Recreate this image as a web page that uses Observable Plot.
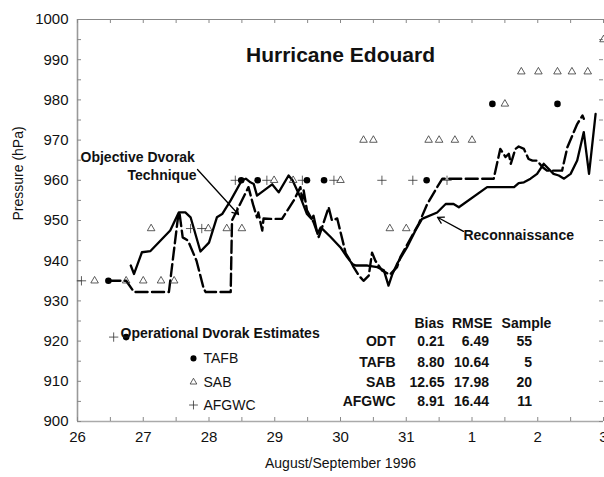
<!DOCTYPE html>
<html><head><meta charset="utf-8">
<script src="https://cdn.jsdelivr.net/npm/d3@7"></script>
<script src="https://cdn.jsdelivr.net/npm/@observablehq/plot@0.6"></script>
<style>body{margin:0;background:#fff} #chart svg{display:block}</style>
</head><body><div id="chart"></div>
<script>
// Day numbers: Aug 26 = 26 ... Aug 31 = 31, Sep 1 = 32, Sep 2 = 33, Sep 3 = 34
const odtDays = [26.47,26.74,26.86,27.39,27.53,27.55,27.6,27.68,27.81,27.92,27.95,28.33,28.35,28.6,28.67,28.73,28.75,28.81,28.83,28.94,29.11,29.29,29.39,29.42,29.44,29.49,29.59,29.67,29.72,29.82,29.87,29.95,30.08,30.15,30.2,30.28,30.35,30.43,30.48,30.53,30.63,30.75,30.86,30.91,31.19,31.32,31.47,31.55,32.33,32.43,32.51,32.56,32.59,32.66,32.71,32.79,32.86,32.92,32.99,33.07,33.14,33.37,33.45,33.6,33.68,33.7];
const odtPressure = [935,935,932.2,932.2,951,952,945.8,945,940,933,932.2,932.2,950,958.3,954,950.8,952,947.5,950.5,950.4,950.4,955,958.3,955,957.5,952.5,949.6,945.9,948.3,953.3,950,950.5,941.8,940,938.4,936.3,935,936.3,942,940,937.6,936.5,938.4,940.9,949.2,954.1,958.3,960.4,960.4,967.8,965.8,966.6,964.1,967.8,968.4,967.8,965.3,964.9,964.9,963.3,962.4,962.4,968.2,974,976.1,975.3];

const reconDays = [26.81,26.86,26.98,27.11,27.41,27.54,27.64,27.72,27.87,28.0,28.12,28.2,28.33,28.5,28.56,28.63,28.68,28.73,28.96,29.06,29.21,29.27,29.34,29.39,29.49,29.56,29.59,29.65,29.7,29.85,30.0,30.1,30.18,30.23,30.41,30.56,30.66,30.73,30.79,30.86,31.01,31.14,31.24,31.47,31.6,31.72,31.8,32.23,32.64,32.71,32.79,32.89,32.99,33.09,33.24,33.32,33.4,33.5,33.6,33.7,33.78,33.88];
const reconPressure = [938.8,936.7,942.1,942.4,947.5,952,952,950.8,942.3,944.5,950.8,951.6,955,960,960.4,959.5,959.1,956.2,959,957,961.2,960,957.5,955.8,951.6,950.4,951.2,946.7,948.3,945.9,943.3,940.9,939.2,938.8,938.8,938.4,937.6,933.8,936.7,939.2,943.3,947.5,950.4,952,954.1,954.1,953.3,958.3,958.3,959.3,959.5,960.4,961.6,964.1,961.6,961.2,960.4,961.6,964.9,972,961.6,976.5];

const tafbDays = [26.47,26.74,28.49,28.74,29.49,29.75,31.31,32.31,33.3];
const tafbPressure = [935,921,960,960,960,960,960,979,979];

const sabDays = [26.26,26.74,27.0,27.27,27.47,27.12,27.99,28.27,28.5,28.99,29.28,30.0,30.35,30.5,31.34,31.5,31.74,32.0,30.75,31.0,32.5,32.75,33.01,33.3,33.52,33.76,34.0];
const sabPressure = [935,935,935,935,935,948,948,948,948,960,960,960,970,970,970,970,970,970,948,948,979,987,987,987,987,987,995];

const afgwcDays = [26.06,26.55,27.72,27.89,28.4,28.88,29.42,29.9,30.63,31.1,31.62];
const afgwcPressure = [935,921,948,948,960,960,960,960,960,960,960];

const xTickValues = [26,27,28,29,30,31,32,33,34];
const xTickLabels = ["26","27","28","29","30","31","1","2","3"];
const yTickValues = [900,910,920,930,940,950,960,970,980,990,1000];
const yMinorTicks = d3.range(900, 1001, 5);
const xHalfTicks = d3.range(26, 34.01, 0.5);

const legendLabels = ["TAFB","SAB","AFGWC"];
const legendSymbols = ["circle","triangle2","plus"];
const tableNames = ["ODT","TAFB","SAB","AFGWC"];
const tableBias = ["0.21","8.80","12.65","8.91"];
const tableRmse = ["6.49","10.64","17.98","16.44"];
const tableSample = ["55","5","20","11"];

const zip = (xs, ys) => xs.map((d, i) => ({day: d, p: ys[i]}));
const odt = zip(odtDays, odtPressure);
const recon = zip(reconDays, reconPressure);
const tafb = zip(tafbDays, tafbPressure);
const sab = zip(sabDays, sabPressure);
const afgwc = zip(afgwcDays, afgwcPressure);

const legendY = [915.7, 909.8, 904.1];
const legend = legendLabels.map((l, i) => ({label: l, symbol: legendSymbols[i], y: legendY[i]}));
const rowY = [919.9, 914.7, 909.7, 905.0];
const table = tableNames.map((n, i) => ({name: n, bias: tableBias[i], rmse: tableRmse[i], sample: tableSample[i], y: rowY[i]}));

const FONT = "Liberation Sans, Arial, Helvetica, sans-serif";
const plotW = 604 - 77 - 1, plotH = 477 - 19 - 56;
const symR = d => d.symbol === "circle" ? 3.3 : d.symbol === "plus" ? 3.1 : 3.6;

const chart = Plot.plot({
  width: 604, height: 477,
  marginLeft: 77, marginRight: 1, marginTop: 19, marginBottom: 56,
  x: {domain: [26, 34]},
  y: {domain: [900, 1000]},
  style: {fontFamily: FONT, fontSize: "14px", color: "#111", background: "#fff"},
  marks: [
    Plot.ruleX([26], {stroke: "#999", strokeWidth: 1.6}),
    Plot.ruleY([900], {stroke: "#aaa", strokeWidth: 1.3}),
    Plot.ruleY([1000], {stroke: "#888", strokeWidth: 1}),
    Plot.tickY(yMinorTicks, {y: d => d, insetRight: plotW - 4, stroke: "#888"}),
    Plot.tickY(yMinorTicks, {y: d => d, insetLeft: plotW - 4, stroke: "#888"}),
    Plot.tickX(xHalfTicks, {x: d => d, insetTop: plotH - 4, stroke: "#888"}),
    Plot.tickX(xHalfTicks, {x: d => d, insetBottom: plotH - 4, stroke: "#888"}),
    Plot.axisY(yTickValues, {tickSize: 0, tickPadding: 9, fontSize: 15, label: null, fill: "#111", tickFormat: d => String(d)}),
    Plot.axisX(xTickValues, {tickSize: 0, tickPadding: 10, fontSize: 15, label: null, fill: "#111",
      tickFormat: d => xTickLabels[xTickValues.indexOf(d)]}),
    Plot.text(["Pressure (hPa)"], {frameAnchor: "left", dx: -59, rotate: -90, fontSize: 14, fill: "#111"}),
    Plot.text(["August/September 1996"], {frameAnchor: "bottom", dy: 46, fontSize: 14, fill: "#111"}),
    Plot.text(["Hurricane Edouard"], {frameAnchor: "top", dy: 28, fontSize: 21, fontWeight: "bold", fill: "#111"}),

    Plot.line(odt, {x: "day", y: "p", stroke: "#000", strokeWidth: 2.4, strokeDasharray: "12,4.5"}),
    Plot.line(recon, {x: "day", y: "p", stroke: "#000", strokeWidth: 2.3}),

    Plot.dot(sab, {x: "day", y: "p", symbol: "triangle2", r: 3.6, stroke: "#333", strokeWidth: 0.8, fill: "none"}),
    Plot.dot(afgwc, {x: "day", y: "p", symbol: "plus", r: 3.1, stroke: "#333", strokeWidth: 0.8}),
    Plot.dot(tafb, {x: "day", y: "p", symbol: "circle", r: 3.3, fill: "#000", stroke: "none"}),

    Plot.text(["Objective Dvorak"], {x: 26.046, y: 965.7, textAnchor: "start", fontSize: 14, fontWeight: "bold", fill: "#111"}),
    Plot.text(["Technique"], {x: 27.81, y: 961.2, textAnchor: "end", fontSize: 14, fontWeight: "bold", fill: "#111"}),
    Plot.arrow([0], {x1: 27.825, y1: 962.7, x2: 28.449, y2: 951.5, stroke: "#000", strokeWidth: 1.3, headLength: 8, bend: 0}),
    Plot.text(["Reconnaissance"], {x: 31.87, y: 946.3, textAnchor: "start", fontSize: 14, fontWeight: "bold", fill: "#111"}),
    Plot.arrow([0], {x1: 31.87, y1: 947.3, x2: 31.475, y2: 950.8, stroke: "#000", strokeWidth: 1.3, headLength: 8, bend: 0}),

    Plot.text(["Operational Dvorak Estimates"], {x: 26.654, y: 921.9, textAnchor: "start", fontSize: 14, fontWeight: "bold", fill: "#111"}),
    Plot.dot(legend, {x: 27.764, y: "y", symbol: "symbol", r: symR,
      fill: d => d.symbol === "circle" ? "#000" : "none", stroke: d => d.symbol === "circle" ? "none" : "#333", strokeWidth: 0.8}),
    Plot.text(legend, {x: 27.916, y: "y", text: "label", textAnchor: "start", fontSize: 14, fill: "#111"}),

    Plot.text(["Bias"], {x: 31.574, y: 924.4, textAnchor: "end", fontSize: 14, fontWeight: "bold", fill: "#111"}),
    Plot.text(["RMSE"], {x: 32.003, y: 924.4, fontSize: 14, fontWeight: "bold", fill: "#111"}),
    Plot.text(["Sample"], {x: 32.829, y: 924.4, fontSize: 14, fontWeight: "bold", fill: "#111"}),
    Plot.text(table, {x: 30.837, y: "y", text: "name", textAnchor: "end", fontSize: 14, fontWeight: "bold", fill: "#111"}),
    Plot.text(table, {x: 31.582, y: "y", text: "bias", textAnchor: "end", fontSize: 14, fontWeight: "bold", fill: "#111"}),
    Plot.text(table, {x: 32.259, y: "y", text: "rmse", textAnchor: "end", fontSize: 14, fontWeight: "bold", fill: "#111"}),
    Plot.text(table, {x: 32.913, y: "y", text: "sample", textAnchor: "end", fontSize: 14, fontWeight: "bold", fill: "#111"})
  ]
});
document.getElementById("chart").append(chart);
</script>
</body></html>
